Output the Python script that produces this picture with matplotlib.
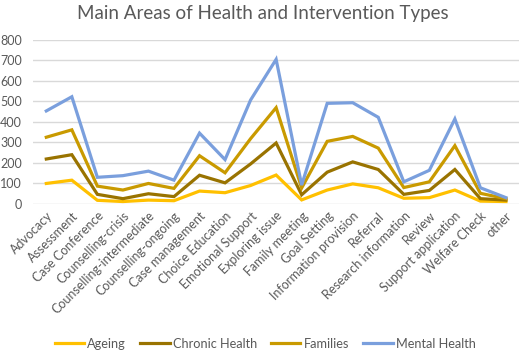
import numpy as np
import matplotlib
matplotlib.use("Agg")
import matplotlib.pyplot as plt

plt.rcParams['font.family'] = ['Lato', 'DejaVu Sans']

categories = ["Advocacy", "Assessment", "Case Conference", "Counselling-crisis",
              "Counselling-intermediate", "Counselling-ongoing", "Case management",
              "Choice Education", "Emotional Support", "Exploring issue", "Family meeting",
              "Goal Setting", "Information provision", "Referral", "Research information",
              "Review", "Support application", "Welfare Check", "other"]

# individual series values (chart is a stacked line chart)
ageing = [100, 116, 18, 12, 19, 16, 63, 55, 90, 141, 20, 68, 98, 79, 28, 31, 68, 14, 12]
chronic_health = [119, 124, 29, 14, 31, 20, 77, 48, 105, 156, 25, 87, 107, 89, 19, 35, 100, 12, 7]
families = [106, 121, 40, 42, 50, 40, 95, 49, 123, 172, 33, 150, 124, 104, 33, 42, 116, 26, 7]
mental_health = [128, 161, 43, 70, 60, 40, 110, 64, 188, 235, 14, 185, 164, 150, 28, 56, 130, 27, 5]

series_names = ["Ageing", "Chronic Health", "Families", "Mental Health"]
colors = ["#FFC000", "#997300", "#C99A00", "#7A9FDD"]

fig = plt.figure(figsize=(5.2, 3.54), dpi=100)
ax = fig.add_axes([0.0635, 0.4237, 0.935, 0.4643])

x = np.arange(len(categories))
stack = np.cumsum(np.array([ageing, chronic_health, families, mental_health]), axis=0)
for vals, name, c in zip(stack, series_names, colors):
    ax.plot(x, vals, color=c, lw=2.3, label=name, solid_joinstyle='miter')

ax.set_xlim(-0.52, len(categories) - 0.48)
ax.set_ylim(0, 800)
ax.set_yticks(range(0, 801, 100))
ax.grid(axis='y', color='#D9D9D9', lw=1)
ax.set_axisbelow(True)
for s in ax.spines.values():
    s.set_visible(False)
ax.tick_params(axis='both', length=0, colors='#595959', labelsize=9)
ax.tick_params(axis='y', pad=8)
ax.set_xticks(x)
ax.set_xticklabels(categories, rotation=45, ha='right', rotation_mode='anchor')
ax.tick_params(axis='x', pad=4)

fig.text(0.505, 0.962, "Main Areas of Health and Intervention Types", ha='center', va='center',
         fontsize=13.5, color='#595959')

fig.legend(loc='lower center', bbox_to_anchor=(0.51, -0.02), ncol=4, frameon=False,
           fontsize=9.2, handlelength=2.3, handletextpad=0.25, columnspacing=1.1,
           labelcolor='#595959')

fig.savefig("out.png", dpi=100)
